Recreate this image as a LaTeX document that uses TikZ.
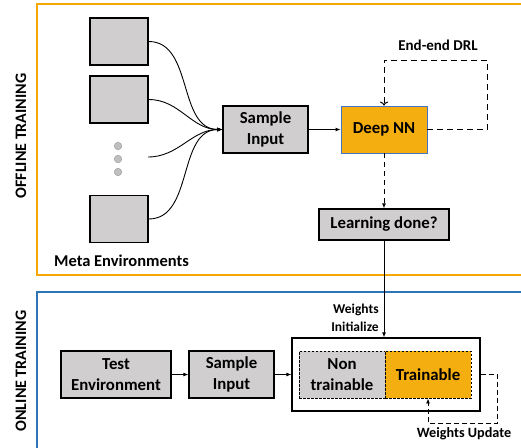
\documentclass[tikz,border=0pt]{standalone}
\usepackage{fontspec}
\setmainfont{Carlito}
\usetikzlibrary{arrows.meta}
\definecolor{boxgray}{HTML}{D0CECE}
\definecolor{nnorange}{HTML}{F5AE0F}
\definecolor{offline}{HTML}{F5A800}
\definecolor{online}{HTML}{2E75B6}
\definecolor{nnblue}{HTML}{4472C4}
\definecolor{dotgray}{HTML}{BFBFBF}
\begin{document}
\begin{tikzpicture}[x=1pt,y=-1pt]
    \tikzstyle{every node}+=[inner sep=0pt]
    \tikzstyle{block}=[draw=black, line width=1.2pt, fill=boxgray, minimum width=85pt, minimum height=47pt, align=center, font=\fontsize{16.8}{20.5}\selectfont\bfseries]
    \tikzstyle{envbox}=[draw=black, line width=1.2pt, fill=boxgray, minimum width=58pt, minimum height=47pt]
    \tikzstyle{label}=[align=center, font=\fontsize{16.5}{18}\selectfont\bfseries]
    \tikzstyle{small}=[align=right, font=\fontsize{13.5}{18}\selectfont\bfseries]
    \tikzstyle{arr}=[black, line width=0.9pt, -{Latex[length=5pt,width=4pt]}]
    \tikzstyle{loopline}=[black, line width=1pt, dash pattern=on 6pt off 4pt]
    \useasboundingbox (0,0) rectangle (521,447);
    % frames
    \draw [offline, line width=2pt] (530,4) -- (37,4) -- (37,275) -- (530,275);
    \draw [online, line width=2pt] (530,292) -- (37,292) -- (37,450);
    \node [label, font=\fontsize{16}{18}\selectfont\bfseries, rotate=90] (offtitle) at (21,136) {OFFLINE TRAINING};
    \node [label, font=\fontsize{16}{18}\selectfont\bfseries, rotate=90] (ontitle) at (21,371) {ONLINE TRAINING};
    % offline part
    \node [envbox] (env1) at (119,41.5) {};
    \node [envbox] (env2) at (119,99.5) {};
    \node [envbox] (env3) at (119,219) {};
    \coordinate (env0) at (148,157);
    \draw [dotgray!80!black, fill=dotgray] (118,146) circle (3.8);
    \draw [dotgray!80!black, fill=dotgray] (118,159) circle (3.8);
    \draw [dotgray!80!black, fill=dotgray] (118,172) circle (3.8);
    \node [label] (meta) at (121.5,261) {Meta Environments};
    \node [block] (sample) at (265.5,129.5) {Sample\\Input};
    \node [block, fill=nnorange, draw=nnblue, line width=0.8pt, minimum width=86pt] (deepnn) at (384,129.5) {Deep NN};
    \node [block, minimum width=130pt, minimum height=31pt] (learn) at (384,224.5) {Learning done?};
    \node [label, font=\fontsize{15}{18}\selectfont\bfseries] (drl) at (438,45) {End-end DRL};
    \draw [arr] (env1.east) to [out=0, in=180] (sample.west);
    \draw [arr] (env2.east) to [out=0, in=180] (sample.west);
    \draw [arr] (env0) to [out=0, in=180] (sample.west);
    \draw [arr] (env3.east) to [out=0, in=180] (sample.west);
    \draw [arr] (sample) -- (deepnn);
    \draw [loopline, -{To[length=4pt,width=8pt]}] (deepnn.east) -- ++(60,0) -- ++(0,-69.5) -| (deepnn.north);
    \draw [arr, dash pattern=on 5pt off 4pt] (deepnn) -- (learn);
    % online part
    \node [block, minimum width=110pt] (testenv) at (116,374.5) {Test\\Environment};
    \node [block] (sample2) at (231.5,374.5) {Sample\\Input};
    \node [draw=black, line width=1.2pt, minimum width=188pt, minimum height=73pt] (model) at (386,374.5) {};
    \node [block, line width=0.9pt, dash pattern=on 2.5pt off 1.5pt, minimum width=86pt] (frozen) at (342,374.5) {Non\\trainable};
    \node [block, line width=0.9pt, dash pattern=on 2.5pt off 1.5pt, fill=nnorange, minimum width=86pt] (trainable) at (428,374.5) {Trainable};
    \node [small] (init) at (355,318) {Weights\\Initialize};
    \node [small, font=\fontsize{14.2}{18}\selectfont\bfseries] (update) at (464,434) {Weights Update};
    \draw [arr] (learn.south) -- (learn.south |- model.north);
    \draw [arr] (testenv) -- (sample2);
    \draw [arr] (sample2) -- (model);
    \draw [arr, dash pattern=on 5pt off 3pt] (model.east) -- ++(17,0) -- ++(0,48.5) -| (trainable.south);
\end{tikzpicture}
\end{document}
